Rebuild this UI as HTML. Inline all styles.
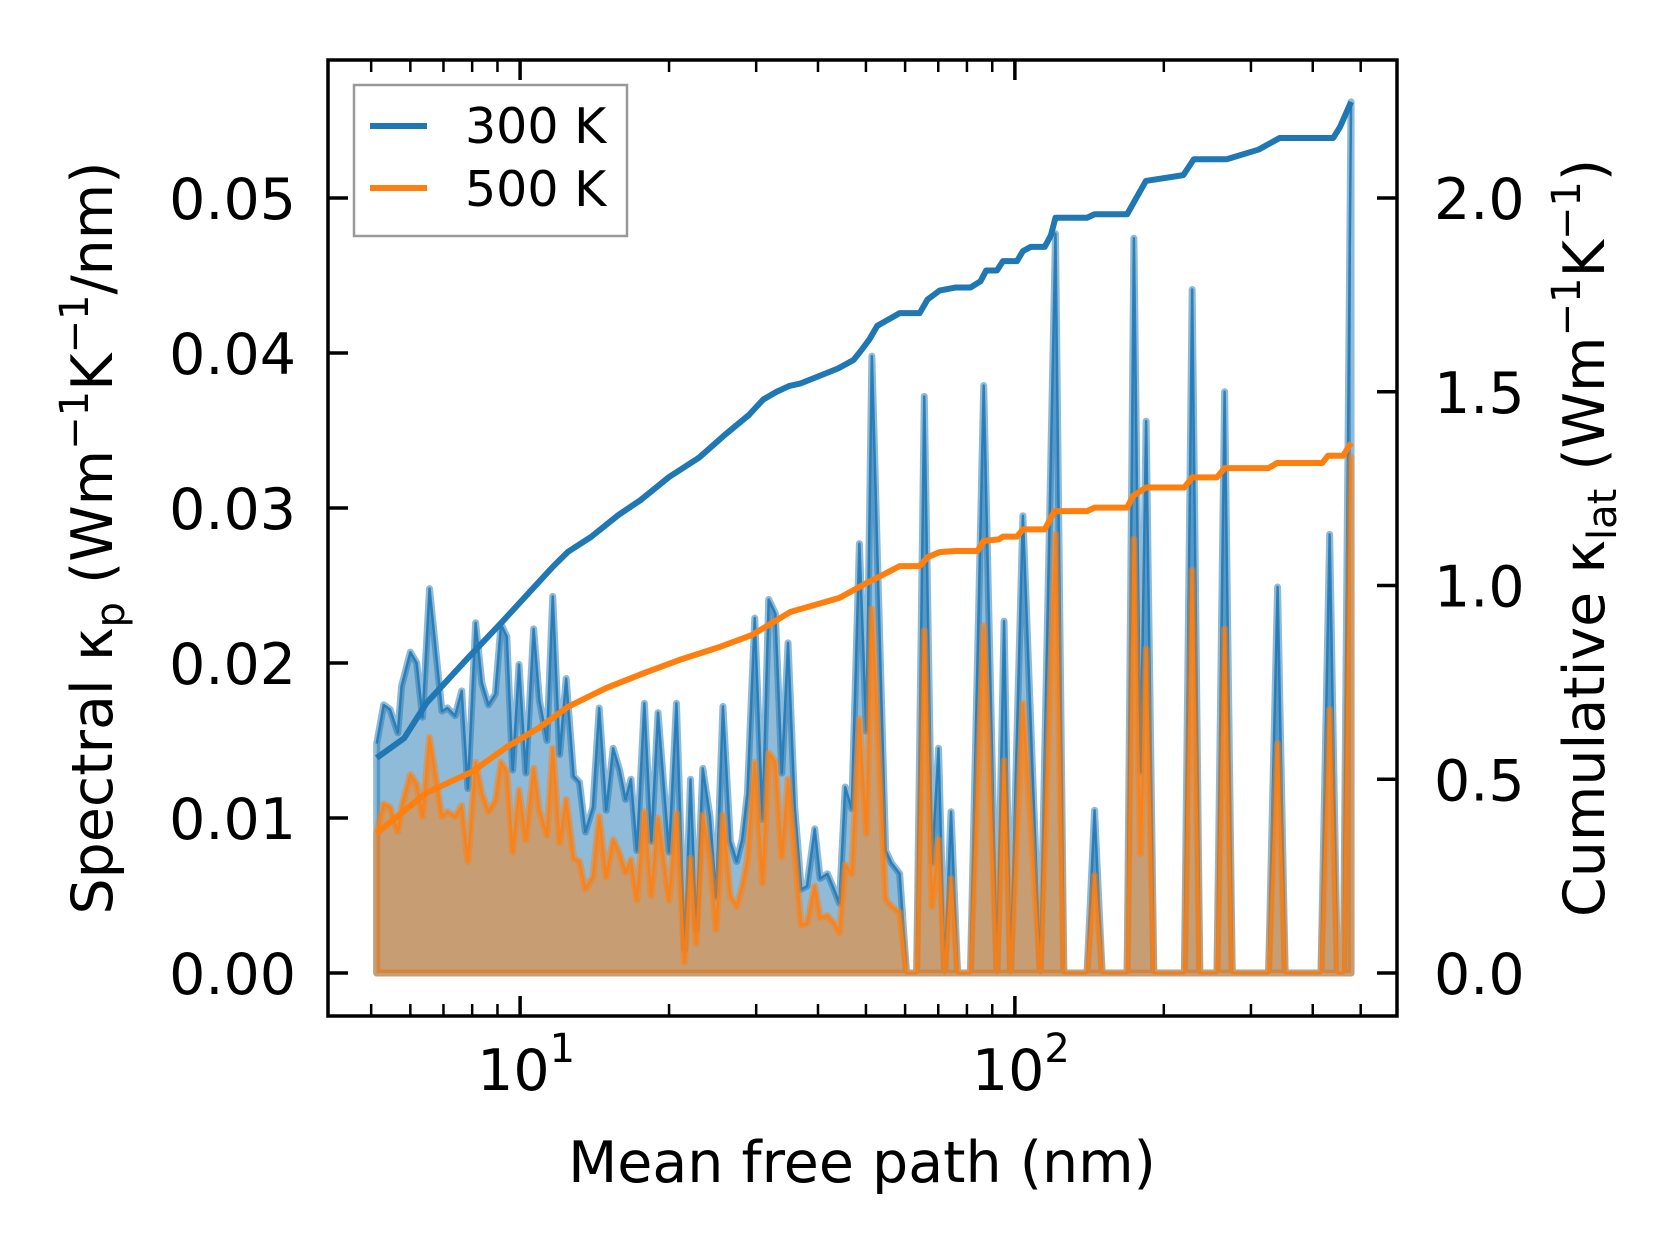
<!DOCTYPE html>
<html><head><meta charset="utf-8"><style>
html,body{margin:0;padding:0;background:#fff;}
svg{display:block;font-family:"DejaVu Sans","Liberation Sans",sans-serif;}
</style></head><body>
<svg id="chart" width="1679" height="1254" viewBox="0 0 1679 1254" xmlns="http://www.w3.org/2000/svg">
<g id="plot"></g>
<g id="axes"></g>
</svg>
<script>
// ---- data ----
const mfp300 = [5.13,5.30,5.46,5.66,5.76,6.00,6.18,6.35,6.56,6.95,7.13,7.39,7.62,7.84,8.13,8.37,8.63,8.91,9.15,9.40,9.66,9.95,10.27,10.65,10.94,11.33,11.64,12.02,12.39,12.83,13.18,13.55,14.03,14.45,14.93,15.42,15.89,16.33,16.75,17.22,17.83,18.41,19.0,20.0,20.7,21.5,22.1,22.7,23.4,24.2,24.9,25.7,26.6,27.4,28.1,28.8,29.8,30.9,31.8,32.8,33.8,34.8,35.9,37.0,38.0,39.4,40.4,41.8,43.1,44.2,45.4,46.8,48.5,50.1,51.4,54.8,56.3,58.5,60.4,63.3,65.6,68.0,70.1,72.1,74.3,76.6,81.3,86.5,92.0,95.1,98.0,103.8,112.5,120.8,125.6,139.9,144.9,150.1,168.6,174.0,179.4,184.2,190.9,220.1,228.2,236.5,256.1,265.4,275,325.6,339.6,351.8,415.6,432.7,448.6,461.2,478];
const spec300 = [.0148,.0173,.0170,.0155,.0185,.0207,.0200,.0165,.0248,.0169,.0171,.0166,.0182,.0119,.0226,.0187,.0173,.0180,.0225,.0217,.0131,.0199,.0129,.0222,.0176,.0150,.0243,.0141,.0190,.0127,.0123,.0091,.0107,.0171,.0105,.0145,.0131,.0112,.0125,.0079,.0174,.0085,.0168,.0078,.0174,.0015,.0125,.0028,.0132,.0101,.0049,.0172,.0085,.0072,.0086,.0116,.0229,.0099,.0241,.0232,.0129,.0213,.0107,.0054,.0056,.0093,.0061,.0064,.0054,.0045,.0120,.0106,.0277,.0156,.0398,.0079,.0071,.0064,0,0,.0372,.0071,.0145,0,.0104,0,0,.0379,0,.0227,0,.0295,0,.0477,0,0,.0105,0,0,.0474,.0130,.0356,0,0,.0441,0,0,.0375,0,0,.0249,0,0,.0283,0,0,.0562];
const spec500 = [.0090,.0109,.0107,.0091,.0107,.0128,.0122,.0101,.0152,.0101,.0104,.0101,.0108,.0072,.0136,.0116,.0104,.0111,.0136,.0130,.0078,.0118,.0086,.0132,.0105,.0089,.0145,.0084,.0112,.0074,.0072,.0054,.0062,.0101,.0062,.0086,.0077,.0065,.0073,.0047,.0104,.0050,.0100,.0047,.0103,.0007,.0074,.0019,.0102,.0073,.0028,.0102,.0050,.0043,.0056,.0073,.0136,.0058,.0142,.0136,.0075,.0125,.0077,.0031,.0032,.0056,.0036,.0037,.0032,.0026,.0070,.0064,.0164,.0090,.0235,.0048,.0043,.0039,0,0,.0221,.0043,.0086,0,.0061,0,0,.0224,0,.0137,0,.0174,0,.0283,0,0,.0063,0,0,.0280,.0077,.0209,0,0,.0260,0,0,.0222,0,0,.0148,0,0,.0170,0,0,.0333];
const cumMfp300 = [5.13,5.83,6.47,7.87,9.15,10.45,11.64,12.5,13.9,15.8,17.5,20,23,26,29,31,33,35,36.8,43.9,47.2,49.0,50.8,52.7,58.5,64.2,66.6,70.4,75.8,81.3,85.2,87.5,92.0,94.6,101,103.8,107.7,114.9,118.2,120.8,139.9,144.9,168.6,184,219,230,268,311,343,440,454,478];
const cum300 = [.555,.606,.697,.815,.903,.983,1.048,1.087,1.125,1.182,1.22,1.28,1.33,1.39,1.44,1.48,1.50,1.515,1.521,1.560,1.582,1.608,1.635,1.67,1.703,1.703,1.738,1.761,1.769,1.769,1.785,1.813,1.813,1.837,1.837,1.863,1.874,1.874,1.903,1.949,1.949,1.958,1.958,2.044,2.059,2.10,2.10,2.125,2.155,2.155,2.183,2.248];
const cumMfp500 = [5.13,6.47,7.99,9.40,10.9,12.5,14.9,17.8,21.0,25.4,29.4,35.2,44.2,50.1,52.7,58.5,64.2,66.6,70.4,75.8,84.0,86.5,92.8,94.6,101,103.8,114.9,120.3,139.9,144.9,168.6,173.3,184.2,220.1,228.2,256.1,265.4,325.6,338.6,418,429.4,461,478];
const cum500 = [.361,.465,.519,.583,.632,.687,.735,.774,.808,.842,.872,.932,.968,1.006,1.020,1.050,1.050,1.073,1.086,1.089,1.089,1.115,1.119,1.126,1.126,1.145,1.145,1.192,1.192,1.201,1.201,1.231,1.253,1.253,1.279,1.279,1.303,1.303,1.316,1.316,1.335,1.335,1.368];
const yTicksLeft = [0,0.01,0.02,0.03,0.04,0.05];
const yTickLabelsLeft = ["0.00","0.01","0.02","0.03","0.04","0.05"];
const yTicksRight = [0,0.5,1.0,1.5,2.0];
const yTickLabelsRight = ["0.0","0.5","1.0","1.5","2.0"];
const xMajor = [10,100];
const xMinor = [5,6,7,8,9,20,30,40,50,60,70,80,90,200,300,400,500];

// ---- geometry ----
const L=328,R=1397,T=60,B=1016;
const lx0=Math.log10(4.09), lx1=Math.log10(592);
const X=v=>L+(Math.log10(v)-lx0)/(lx1-lx0)*(R-L);
const Y=v=>973-v*15500;
const Y2=v=>973-v*387.5;
const NS="http://www.w3.org/2000/svg";
function mk(tag,attrs,parent){const e=document.createElementNS(NS,tag);for(const k in attrs)e.setAttribute(k,attrs[k]);parent.appendChild(e);return e;}
const plot=document.getElementById('plot'), axes=document.getElementById('axes');

function spectral(xs,ys,color,name){
  let d=`M${X(xs[0])},${Y(0)}`;
  xs.forEach((x,i)=>{d+=` L${X(x)},${Y(ys[i])}`;});
  d+=` L${X(xs[xs.length-1])},${Y(0)} Z`;
  const f=mk('path',{d:d,fill:color,'fill-opacity':0.5,stroke:color,'stroke-opacity':0.5,'stroke-width':7,'stroke-linejoin':'round'},plot);
  
  
  const pts=xs.map((x,i)=>`${X(x)},${Y(ys[i])}`).join(' ');
  const l=mk('polyline',{points:pts,fill:'none',stroke:color,'stroke-opacity':0.85,'stroke-width':2.5,'stroke-linejoin':'round'},plot);
  
  
}
spectral(mfp300,spec300,'#1f77b4','spectral-300k');
spectral(mfp300,spec500,'#ff7f0e','spectral-500k');

function cum(xs,ys,color,name){
  const pts=xs.map((x,i)=>`${X(x)},${Y2(ys[i])}`).join(' ');
  const l=mk('polyline',{points:pts,fill:'none',stroke:color,'stroke-width':6,'stroke-linejoin':'round'},plot);
  
  
}
cum(cumMfp300,cum300,'#1f77b4','cumulative-300k-line');
cum(cumMfp500,cum500,'#ff7f0e','cumulative-500k-line');

// frame
const fr=mk('rect',{x:L,y:T,width:R-L,height:B-T,fill:'none',stroke:'#000','stroke-width':3.5},axes);



function txt(s,x,y,size,anchor,parent){const t=mk('text',{x:x,y:y,'font-size':size,'text-anchor':anchor,fill:'#000'},parent);t.textContent=s;return t;}

yTicksLeft.forEach((v,i)=>{
  const t=mk('line',{x1:L,x2:L+20,y1:Y(v),y2:Y(v),stroke:'#000','stroke-width':3.5},axes);
  
  
  const lb=txt(yTickLabelsLeft[i],296,Y(v)+21,57,'end',axes);
  
  
});
yTicksRight.forEach((v,i)=>{
  const t=mk('line',{x1:R-20,x2:R,y1:Y2(v),y2:Y2(v),stroke:'#000','stroke-width':3.5},axes);
  
  
  const lb=txt(yTickLabelsRight[i],1434,Y2(v)+21,57,'start',axes);
  
  
});
xMajor.forEach((v,i)=>{
  [[B,B-20],[T,T+20]].forEach(p=>{
    const t=mk('line',{x1:X(v),x2:X(v),y1:p[0],y2:p[1],stroke:'#000','stroke-width':3.5},axes);
    
    
  });
  const lb=mk('text',{x:X(v)+6,y:1090,'font-size':57,'text-anchor':'middle',fill:'#000'},axes);
  
  
  lb.innerHTML='10<tspan font-size="40" dy="-28">'+Math.round(Math.log10(v))+'</tspan>';
});
xMinor.forEach(v=>{
  [[B,B-12],[T,T+12]].forEach(p=>{
    const t=mk('line',{x1:X(v),x2:X(v),y1:p[0],y2:p[1],stroke:'#000','stroke-width':2.5},axes);
    
    
  });
});
</script>
<svg style="position:absolute;left:0;top:0" width="1679" height="1254" xmlns="http://www.w3.org/2000/svg" font-family="DejaVu Sans, Liberation Sans, sans-serif">
  <text x="862" y="1182" font-size="57" text-anchor="middle">Mean free path (nm)</text>
  <text transform="translate(112,538) rotate(-90)" font-size="57" text-anchor="middle">Spectral κ<tspan font-size="40" dy="12">p</tspan><tspan dy="-12"> (Wm</tspan><tspan font-size="40" dy="-24">−1</tspan><tspan dy="24">K</tspan><tspan font-size="40" dy="-24">−1</tspan><tspan dy="24">/nm)</tspan></text>
  <text transform="translate(1604,538) rotate(-90)" font-size="57" text-anchor="middle">Cumulative κ<tspan font-size="40" dy="12">lat</tspan><tspan dy="-12"> (Wm</tspan><tspan font-size="40" dy="-24">−1</tspan><tspan dy="24">K</tspan><tspan font-size="40" dy="-24">−1</tspan><tspan dy="24">)</tspan></text>
  <g>
    <rect x="354" y="85" width="273" height="151" fill="#fff" fill-opacity="0.85" stroke="#999" stroke-width="2.5"/>
    <line x1="370" x2="427" y1="126" y2="126" stroke="#1f77b4" stroke-width="6"/>
    <text x="465" y="143" font-size="49">300 K</text>
    <line x1="370" x2="427" y1="188" y2="188" stroke="#ff7f0e" stroke-width="6"/>
    <text x="465" y="206" font-size="49">500 K</text>
  </g>
</svg>
</body></html>
